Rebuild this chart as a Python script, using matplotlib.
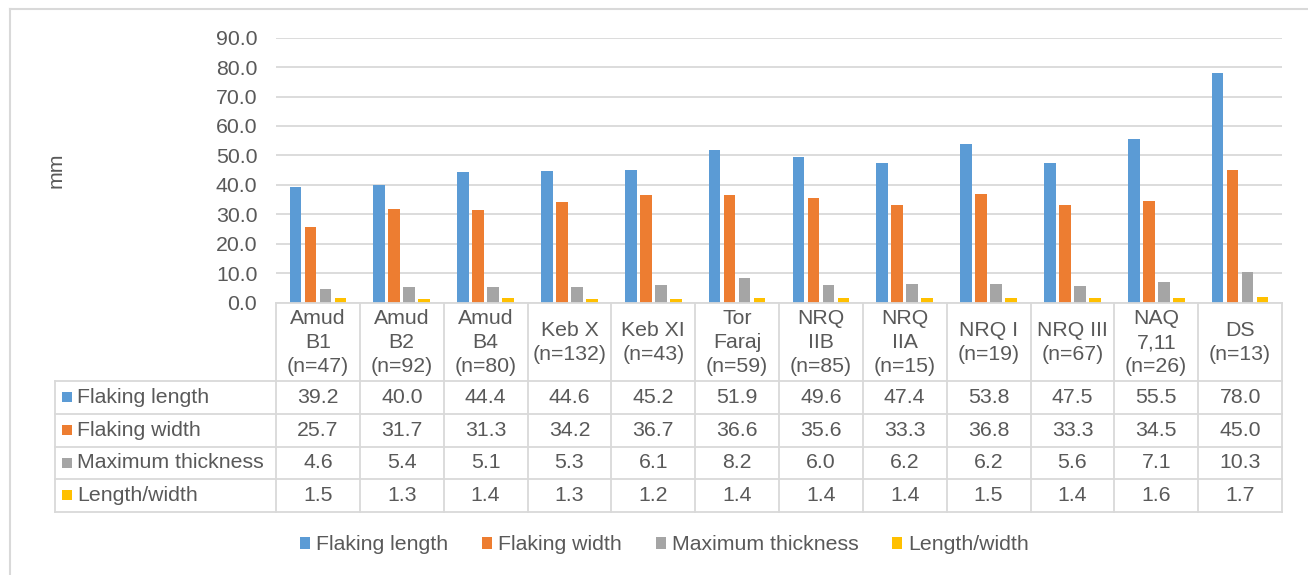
import numpy as np
import matplotlib.pyplot as plt
from matplotlib.lines import Line2D
from matplotlib.patches import Patch

plt.rcParams['font.family'] = ['Liberation Sans', 'DejaVu Sans']

sites = ["Amud\nB1\n(n=47)", "Amud\nB2\n(n=92)", "Amud\nB4\n(n=80)", "Keb X\n(n=132)",
         "Keb XI\n(n=43)", "Tor\nFaraj\n(n=59)", "NRQ\nIIB\n(n=85)", "NRQ\nIIA\n(n=15)",
         "NRQ I\n(n=19)", "NRQ III\n(n=67)", "NAQ\n7,11\n(n=26)", "DS\n(n=13)"]
series_names = ["Flaking length", "Flaking width", "Maximum thickness", "Length/width"]
flaking_length = [39.2, 40.0, 44.4, 44.6, 45.2, 51.9, 49.6, 47.4, 53.8, 47.5, 55.5, 78.0]
flaking_width = [25.7, 31.7, 31.3, 34.2, 36.7, 36.6, 35.6, 33.3, 36.8, 33.3, 34.5, 45.0]
max_thickness = [4.6, 5.4, 5.1, 5.3, 6.1, 8.2, 6.0, 6.2, 6.2, 5.6, 7.1, 10.3]
length_width = [1.5, 1.3, 1.4, 1.3, 1.2, 1.4, 1.4, 1.4, 1.5, 1.4, 1.6, 1.7]
y_ticks = [0, 10, 20, 30, 40, 50, 60, 70, 80, 90]

series = [flaking_length, flaking_width, max_thickness, length_width]
colors = ["#5B9BD5", "#ED7D31", "#A5A5A5", "#FFC000"]
txt = "#595959"
grid_c = "#D9D9D9"
fs = 15.3

W, H = 1308, 575
fig = plt.figure(figsize=(W / 100, H / 100), dpi=100)

# pixel positions of the plot area
left, right, top, bottom = 276, 1282, 37.7, 302.5
ax = fig.add_axes([left / W, 1 - bottom / H, (right - left) / W, (bottom - top) / H])

x = np.arange(len(sites))
step, bw = 0.179, 0.14
for k, (vals, c) in enumerate(zip(series, colors)):
    ax.bar(x + (k - 1.5) * step, vals, width=bw, color=c, zorder=3)

ax.set_xlim(-0.5, len(sites) - 0.5)
ax.set_ylim(0, 90)
ax.set_yticks(y_ticks)
ax.set_yticklabels([f"{v:.1f}" for v in y_ticks])
ax.set_xticks([])
ax.tick_params(axis="y", length=0, pad=13.5, labelsize=fs, labelcolor=txt)
ax.grid(axis="y", color=grid_c, lw=1.3, zorder=0)
for s in ax.spines.values():
    s.set_visible(False)

fig.text(56 / W, 1 - 170 / H, "mm", rotation=90, ha="center", va="center",
         fontsize=fs, color=txt)

# data table under the bars
tab_bottom = 511.7
tab = fig.add_axes([left / W, 1 - tab_bottom / H, (right - left) / W, (tab_bottom - bottom) / H])
tab.set_xlim(-0.5, len(sites) - 0.5)
tab.set_ylim(tab_bottom - bottom, 0)
tab.axis("off")

col_w = (right - left) / len(sites)
x_left = -0.5 - (left - 55) / col_w
rows = [0, 78.5, 111.3, 144.0, 176.7, 209.2]
lc = dict(color=grid_c, lw=1.3, clip_on=False)

tab.plot([-0.5, len(sites) - 0.5], [0, 0], **lc)
for r in rows[1:]:
    tab.plot([x_left, len(sites) - 0.5], [r, r], **lc)
for i in range(len(sites) + 1):
    tab.plot([i - 0.5, i - 0.5], [0, rows[-1]], **lc)
tab.plot([x_left, x_left], [rows[1], rows[-1]], **lc)

for i, name in enumerate(sites):
    tab.text(i, rows[1] / 2 + 1, name, ha="center", va="center", fontsize=fs,
             color=txt, linespacing=1.35, clip_on=False)

mk_x = x_left + (66.5 - 55) / col_w
lab_x = x_left + (77 - 55) / col_w
for k, (name, vals, c) in enumerate(zip(series_names, series, colors)):
    yc = (rows[k + 1] + rows[k + 2]) / 2
    tab.plot([mk_x], [yc], marker="s", ms=6.5, color=c, mew=0, clip_on=False)
    tab.text(lab_x, yc, name, ha="left", va="center", fontsize=fs, color=txt, clip_on=False)
    for i, v in enumerate(vals):
        tab.text(i, yc, f"{v:.1f}", ha="center", va="center", fontsize=fs, color=txt)

handles = [Patch(facecolor=c, edgecolor="none") for c in colors]
fig.legend(handles, series_names, loc="center", bbox_to_anchor=(664.5 / W, 1 - 545 / H),
           ncol=4, frameon=False, fontsize=fs, labelcolor=txt,
           handlelength=0.47, handleheight=0.45, handletextpad=0.28, columnspacing=1.6)

# chart border
fig.add_artist(Line2D([10 / W, 10 / W], [0, 1 - 9 / H], color=grid_c, lw=1.5))
fig.add_artist(Line2D([10 / W, 1], [1 - 9 / H, 1 - 9 / H], color=grid_c, lw=1.5))

fig.savefig("out.png", dpi=100)
